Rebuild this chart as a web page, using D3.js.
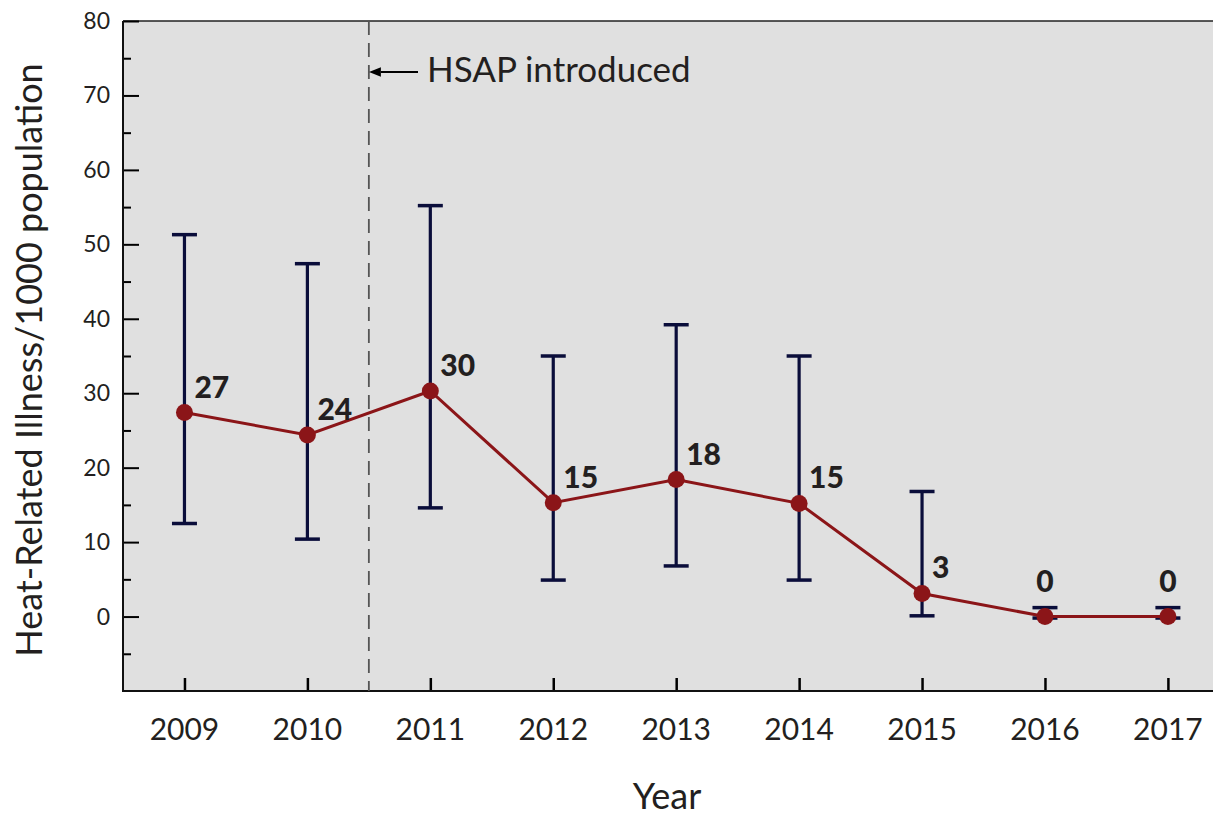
<!DOCTYPE html>
<html>
<head>
<meta charset="utf-8">
<script src="https://cdn.jsdelivr.net/npm/d3@7"></script>
<style>
  body { margin: 0; background: #fff; }
  svg { display: block; font-family: Lato, "Open Sans", sans-serif; }
</style>
</head>
<body>
<div id="chart-area"></div>
<script>
// chart values
const years = [2009, 2010, 2011, 2012, 2013, 2014, 2015, 2016, 2017];
const rates = [27.4, 24.4, 30.3, 15.3, 18.4, 15.2, 3.1, 0, 0];
const upper = [51.3, 47.4, 55.2, 35.0, 39.2, 35.0, 16.8, 1.2, 1.2];
const lower = [12.5, 10.4, 14.6, 4.9, 6.8, 4.9, 0.1, -0.2, -0.2];
const rateLabels = ["27", "24", "30", "15", "18", "15", "3", "0", "0"];
const yTicks = [0, 10, 20, 30, 40, 50, 60, 70, 80];
const hsapYear = 2010.5;

const lineColor = '#8b1518';
const barColor = '#0a0d3a';
const fontColor = '#231f20';

const W = 1213, H = 816;
const plotLeft = 123, plotTop = 21, plotBottom = 691;
const step = 122.93;

const svg = d3.select("#chart-area").append("svg")
  .attr("width", W)
  .attr("height", H);

const x = d3.scaleLinear()
  .domain([2008.5, 2017.5])
  .range([plotLeft, plotLeft + 9 * step]);

const y = d3.scaleLinear()
  .domain([-10, 80])
  .range([plotBottom, plotTop]);

// plot background
svg.append("rect")
  .attr("x", plotLeft).attr("y", plotTop)
  .attr("width", W - plotLeft).attr("height", plotBottom - plotTop)
  .attr("fill", "#e0e0e0");

svg.append("line")
  .attr("x1", plotLeft).attr("x2", W)
  .attr("y1", plotTop).attr("y2", plotTop)
  .attr("stroke", "#222").attr("stroke-width", 1.5);

// y axis, ticks inside
const yAxis = d3.axisRight(y)
  .tickValues(yTicks)
  .tickSize(16)
  .tickFormat("");
const gy = svg.append("g").attr("transform", `translate(${plotLeft},0)`).call(yAxis);
gy.select(".domain").remove();
gy.selectAll(".tick line").attr("stroke", "#000").attr("stroke-width", 2);

const minor = d3.axisRight(y)
  .tickValues(d3.range(-5, 80, 10))
  .tickSize(8)
  .tickFormat("");
const gm = svg.append("g").attr("transform", `translate(${plotLeft},0)`).call(minor);
gm.select(".domain").remove();
gm.selectAll(".tick line").attr("stroke", "#000").attr("stroke-width", 2);

svg.append("g").selectAll("text")
  .data(yTicks)
  .enter().append("text")
  .attr("x", plotLeft - 13)
  .attr("y", d => y(d))
  .attr("dy", "0.35em")
  .attr("text-anchor", "end")
  .attr("font-size", 23)
  .attr("fill", fontColor)
  .text(d => d);

// x axis, ticks pointing up
const xAxis = d3.axisTop(x)
  .tickValues(years)
  .tickSize(13)
  .tickFormat("");
const gx = svg.append("g").attr("transform", `translate(0,${plotBottom})`).call(xAxis);
gx.select(".domain").remove();
gx.selectAll(".tick line").attr("stroke", "#000").attr("stroke-width", 2.5);

svg.append("g").selectAll("text")
  .data(years)
  .enter().append("text")
  .attr("x", d => x(d))
  .attr("y", 740)
  .attr("text-anchor", "middle")
  .attr("font-size", 30)
  .attr("fill", fontColor)
  .text(d => d);

// axis lines
svg.append("line")
  .attr("x1", plotLeft).attr("x2", plotLeft)
  .attr("y1", plotTop).attr("y2", plotBottom + 1)
  .attr("stroke", "#111").attr("stroke-width", 2);
svg.append("line")
  .attr("x1", plotLeft).attr("x2", W)
  .attr("y1", plotBottom).attr("y2", plotBottom)
  .attr("stroke", "#111").attr("stroke-width", 2);

// HSAP marker
svg.append("line")
  .attr("x1", x(hsapYear)).attr("x2", x(hsapYear))
  .attr("y1", plotTop).attr("y2", plotBottom)
  .attr("stroke", "#555").attr("stroke-width", 1.8)
  .attr("stroke-dasharray", "14,8");

svg.append("defs").append("marker")
  .attr("id", "arrow")
  .attr("viewBox", "0 0 10 10")
  .attr("refX", 0).attr("refY", 5)
  .attr("markerWidth", 6).attr("markerHeight", 6)
  .attr("orient", "auto-start-reverse")
  .append("path")
  .attr("d", "M0,1 L10,5 L0,9 Z")
  .attr("fill", "#000");

svg.append("line")
  .attr("x1", 418).attr("x2", x(hsapYear) + 12)
  .attr("y1", 72).attr("y2", 72)
  .attr("stroke", "#000").attr("stroke-width", 2)
  .attr("marker-end", "url(#arrow)");

svg.append("text")
  .attr("x", 427).attr("y", 82)
  .attr("font-size", 35)
  .attr("fill", fontColor)
  .text("HSAP introduced");

// error bars
const bars = svg.append("g").selectAll("g")
  .data(years)
  .enter().append("g");

bars.append("line")
  .attr("x1", d => x(d)).attr("x2", d => x(d))
  .attr("y1", (d, i) => y(upper[i])).attr("y2", (d, i) => y(lower[i]))
  .attr("stroke", barColor).attr("stroke-width", 3.2);

bars.append("line")
  .attr("x1", d => x(d) - 12.5).attr("x2", d => x(d) + 12.5)
  .attr("y1", (d, i) => y(upper[i])).attr("y2", (d, i) => y(upper[i]))
  .attr("stroke", barColor).attr("stroke-width", 3.5);

bars.append("line")
  .attr("x1", d => x(d) - 12.5).attr("x2", d => x(d) + 12.5)
  .attr("y1", (d, i) => y(lower[i])).attr("y2", (d, i) => y(lower[i]))
  .attr("stroke", barColor).attr("stroke-width", 3.5);

// the rate line
const line = d3.line()
  .x((d, i) => x(years[i]))
  .y(d => y(d));

svg.append("path")
  .datum(rates)
  .attr("d", line)
  .attr("fill", "none")
  .attr("stroke", lineColor)
  .attr("stroke-width", 3);

svg.append("g").selectAll("circle")
  .data(rates)
  .enter().append("circle")
  .attr("cx", (d, i) => x(years[i]))
  .attr("cy", d => y(d))
  .attr("r", 8.5)
  .attr("fill", lineColor);

// value labels: zeros sit centred above, the rest up and to the right
svg.append("g").selectAll("text")
  .data(rates)
  .enter().append("text")
  .attr("x", (d, i) => x(years[i]) + (d === 0 ? 0 : 10))
  .attr("y", d => y(d) - (d === 0 ? 25 : 15))
  .attr("text-anchor", d => d === 0 ? "middle" : "start")
  .attr("font-size", 30)
  .attr("font-weight", 900)
  .attr("fill", fontColor)
  .text((d, i) => rateLabels[i]);

// axis titles
svg.append("text")
  .attr("transform", `translate(42,360) rotate(-90)`)
  .attr("text-anchor", "middle")
  .attr("font-size", 36)
  .attr("fill", fontColor)
  .text("Heat-Related Illness/1000 population");

svg.append("text")
  .attr("x", 667).attr("y", 809)
  .attr("text-anchor", "middle")
  .attr("font-size", 36)
  .attr("fill", fontColor)
  .text("Year");
</script>
</body>
</html>
